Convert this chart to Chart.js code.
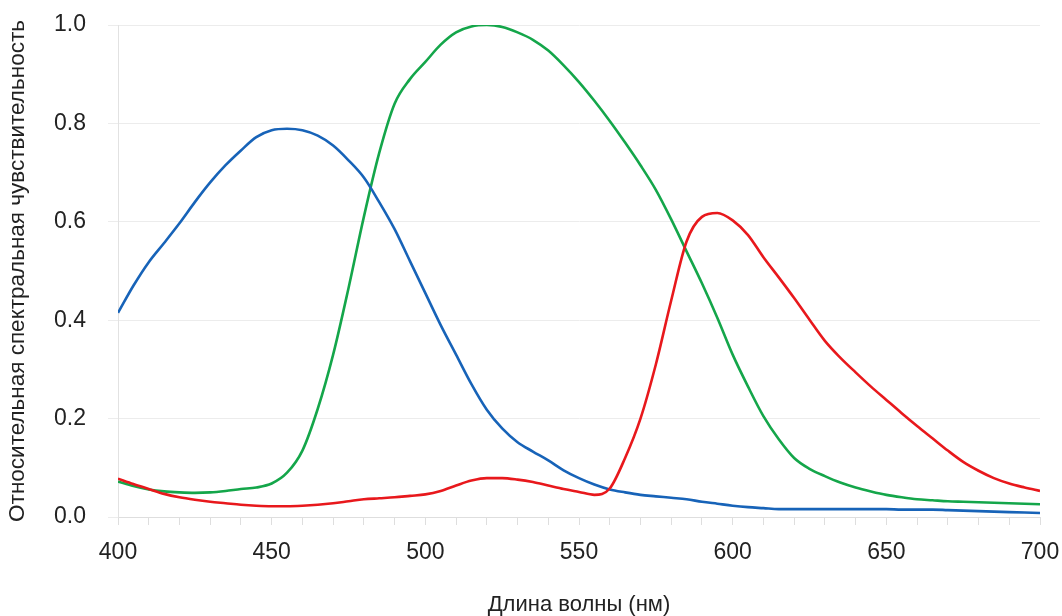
<!DOCTYPE html>
<html>
<head>
<meta charset="utf-8">
<script src="https://cdn.jsdelivr.net/npm/chart.js@4/dist/chart.umd.min.js"></script>
<style>
  html, body { margin: 0; padding: 0; background: #fff; }
  #wrap { width: 1062px; height: 616px; position: relative; }
</style>
</head>
<body>
<div id="wrap"><canvas id="c"></canvas></div>
<script>
const wavelengths = [400,405,410,415,420,425,430,435,440,445,450,455,460,465,470,475,480,485,490,495,500,505,510,515,520,525,530,535,540,545,550,555,560,565,570,575,580,585,590,595,600,605,610,615,620,625,630,635,640,645,650,655,660,665,670,675,680,685,690,695,700];

const blueValues = [0.415,0.47,0.518,0.557,0.597,0.64,0.68,0.715,0.745,0.772,0.786,0.789,0.786,0.775,0.755,0.725,0.69,0.64,0.585,0.52,0.455,0.39,0.33,0.27,0.218,0.18,0.152,0.133,0.115,0.095,0.079,0.066,0.056,0.05,0.045,0.042,0.039,0.036,0.031,0.027,0.023,0.02,0.018,0.016,0.016,0.016,0.016,0.016,0.016,0.016,0.016,0.015,0.015,0.015,0.014,0.013,0.012,0.011,0.01,0.009,0.008];

const greenValues = [0.072,0.063,0.056,0.052,0.05,0.049,0.05,0.053,0.057,0.06,0.068,0.09,0.135,0.22,0.33,0.465,0.61,0.74,0.84,0.89,0.925,0.96,0.985,0.997,1.0,0.996,0.985,0.97,0.948,0.918,0.884,0.846,0.805,0.761,0.715,0.665,0.605,0.54,0.475,0.405,0.33,0.265,0.205,0.158,0.12,0.098,0.083,0.07,0.06,0.052,0.045,0.04,0.036,0.034,0.032,0.031,0.03,0.029,0.028,0.027,0.026];

const redValues = [0.078,0.067,0.057,0.047,0.04,0.035,0.031,0.028,0.025,0.023,0.022,0.022,0.023,0.025,0.028,0.032,0.036,0.038,0.04,0.043,0.046,0.053,0.064,0.074,0.079,0.079,0.076,0.071,0.064,0.057,0.051,0.045,0.058,0.12,0.2,0.31,0.44,0.56,0.61,0.618,0.603,0.573,0.528,0.487,0.445,0.401,0.358,0.324,0.294,0.265,0.238,0.211,0.185,0.16,0.135,0.112,0.094,0.079,0.068,0.06,0.053];

const yTicks = [0, 0.2, 0.4, 0.6, 0.8, 1.0];
const xLabelTicks = [400, 450, 500, 550, 600, 650, 700];

const xTitle = 'Длина волны (нм)';
const yTitle = 'Относительная спектральная чувствительность';

function pts(vals) { return wavelengths.map((w, i) => ({ x: w, y: vals[i] })); }

const FONT = "'Liberation Sans', Arial, sans-serif";

new Chart(document.getElementById('c'), {
  type: 'line',
  data: {
    datasets: [
      { label: 'red', data: pts(redValues), borderColor: '#e8181c', borderWidth: 2.6, pointRadius: 0, tension: 0.4, cubicInterpolationMode: 'monotone', fill: false, order: 1 },
      { label: 'blue', data: pts(blueValues), borderColor: '#1763b8', borderWidth: 2.6, pointRadius: 0, tension: 0.4, cubicInterpolationMode: 'monotone', fill: false, order: 2 },
      { label: 'green', data: pts(greenValues), borderColor: '#14a64a', borderWidth: 2.6, pointRadius: 0, tension: 0.4, cubicInterpolationMode: 'monotone', fill: false, order: 3 }
    ]
  },
  options: {
    responsive: true,
    maintainAspectRatio: false,
    animation: false,
    layout: { padding: { top: 25, right: 22, bottom: 0, left: 0 } },
    plugins: { legend: { display: false }, tooltip: { enabled: false } },
    scales: {
      x: {
        type: 'linear', min: 400, max: 700,
        afterBuildTicks: (s) => { const t = []; for (let v = 400; v <= 700; v += 10) t.push({ value: v }); s.ticks = t; },
        ticks: {
          autoSkip: false, maxRotation: 0, padding: 14,
          color: '#222', font: { family: FONT, size: 23 },
          callback: (v) => xLabelTicks.includes(v) ? String(v) : ''
        },
        grid: { drawOnChartArea: false, drawTicks: true, tickLength: 8, color: '#dedede', lineWidth: 1 },
        border: { display: true, color: '#dedede' },
        title: { display: true, text: xTitle, color: '#222', font: { family: FONT, size: 22, lineHeight: 1.0 }, padding: { top: 16, bottom: 0 } },
        afterFit: (s) => { s.height = 99; s.paddingLeft = 0; s.paddingRight = 0; }
      },
      y: {
        min: 0, max: 1,
        afterBuildTicks: (s) => { s.ticks = yTicks.map(v => ({ value: v })); },
        ticks: {
          padding: 22, color: '#222', font: { family: FONT, size: 23 },
          callback: (v) => Number(v).toFixed(1)
        },
        grid: { color: '#ececec', lineWidth: 1, tickLength: 10, drawTicks: true },
        border: { display: true, color: '#e2e2e2' },
        title: { display: true, text: yTitle, color: '#222', font: { family: FONT, size: 22.5 }, padding: { top: 4, bottom: 0 } },
        afterFit: (s) => { s.width = 118; s.paddingTop = 0; s.paddingBottom = 0; }
      }
    }
  }
});
</script>
</body>
</html>
